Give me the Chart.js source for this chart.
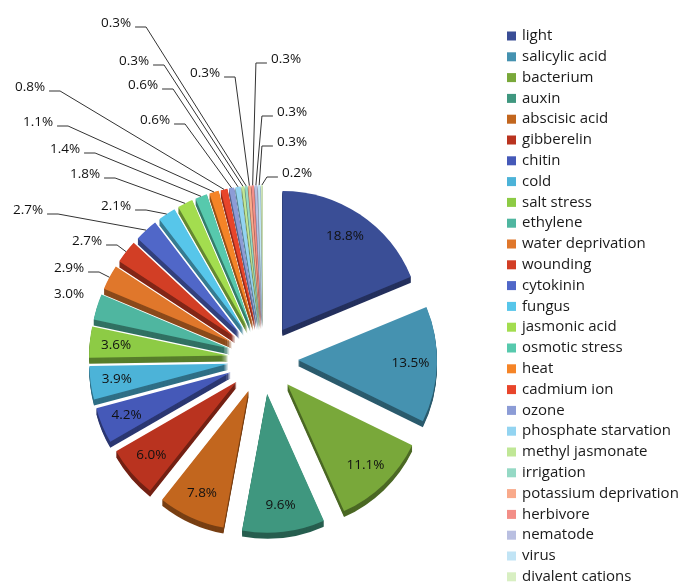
<!DOCTYPE html>
<html>
<head>
<meta charset="utf-8">
<script src="https://cdn.jsdelivr.net/npm/chart.js@4.4.1/dist/chart.umd.min.js"></script>
<style>
  html, body { margin: 0; padding: 0; background: #fff; }
  #wrap { width: 686px; height: 585px; }
</style>
</head>
<body>
<div id="wrap"><canvas id="pie" width="686" height="585"></canvas></div>
<script>
const categories = ['light', 'salicylic acid', 'bacterium', 'auxin', 'abscisic acid', 'gibberelin', 'chitin', 'cold',
  'salt stress', 'ethylene', 'water deprivation', 'wounding', 'cytokinin', 'fungus', 'jasmonic acid', 'osmotic stress',
  'heat', 'cadmium ion', 'ozone', 'phosphate starvation', 'methyl jasmonate', 'irrigation', 'potassium deprivation',
  'herbivore', 'nematode', 'virus', 'divalent cations'];
const shares = [18.8, 13.5, 11.1, 9.6, 7.8, 6.0, 4.2, 3.9, 3.6, 3.0, 2.9, 2.7, 2.7, 2.1, 1.8, 1.4, 1.1, 0.8, 0.6, 0.6,
  0.3, 0.3, 0.3, 0.3, 0.3, 0.3, 0.2];
const sliceColors = ['#3a4e96', '#4592b0', '#79a83a', '#3f977f', '#c2661e', '#b9331f', '#4559b8', '#4cb3d8',
  '#8dcb45', '#4fb6a0', '#e0772b', '#d23e25', '#5067c8', '#57c6ea', '#a3dd4f', '#57c9ad', '#f58427', '#e8452b',
  '#8c9cd6', '#93d4f1', '#c0e796', '#95d9c5', '#f9aa8b', '#f38e87', '#b9bfe1', '#c1e4f5', '#d8efc2'];

// callout positions for the small slices, px from the pie centre (slices 9..26)
const calloutOffsets = [[-194, -65], [-194, -91], [-176, -118], [-235, -149], [-147, -153], [-178, -185],
  [-198, -210], [-225, -237], [-233, -272], [-108, -239], [-120, -274], [-129, -298], [-147, -336],
  [-58, -286], [23, -300], [29, -247], [29, -217], [34, -186]];
const INSIDE_COUNT = 9;
const EXPLODE = 35, DEPTH = 6, RADIUS = 139;
const FONT = '"Open Sans", "DejaVu Sans", sans-serif';

function shade(hex, f) {
  const n = parseInt(hex.slice(1), 16);
  const r = Math.round(((n >> 16) & 255) * f), g = Math.round(((n >> 8) & 255) * f), b = Math.round((n & 255) * f);
  return `rgb(${r},${g},${b})`;
}

function midShift(a) {
  const m = (a.startAngle + a.endAngle) / 2;
  return [Math.cos(m) * EXPLODE, Math.sin(m) * EXPLODE];
}

// exploded pie with a thin 3D rim underneath each slice
const explodedPie = {
  id: 'explodedPie',
  beforeDatasetDraw(chart, args) {
    const ctx = chart.ctx;
    const arcs = args.meta.data;
    ctx.save();
    arcs.forEach((a, i) => {
      const [dx, dy] = midShift(a);
      ctx.fillStyle = shade(sliceColors[i], 0.62);
      for (let k = DEPTH; k > 0; k--) {
        ctx.beginPath();
        ctx.moveTo(a.x + dx, a.y + dy + k);
        ctx.arc(a.x + dx, a.y + dy + k, a.outerRadius, a.startAngle, a.endAngle);
        ctx.closePath();
        ctx.fill();
      }
    });
    arcs.forEach(a => {
      const [dx, dy] = midShift(a);
      ctx.save();
      ctx.translate(dx, dy);
      a.draw(ctx);
      ctx.restore();
    });
    ctx.restore();
    return false;
  }
};

const pctLabels = {
  id: 'pctLabels',
  afterDatasetsDraw(chart) {
    const ctx = chart.ctx;
    const arcs = chart.getDatasetMeta(0).data;
    ctx.save();
    ctx.font = `13.5px ${FONT}`;
    ctx.fillStyle = '#111';
    ctx.textBaseline = 'middle';
    arcs.forEach((a, i) => {
      const txt = shares[i].toFixed(1) + '%';
      const m = (a.startAngle + a.endAngle) / 2;
      if (i < INSIDE_COUNT) {
        const rr = EXPLODE + a.outerRadius * 0.81;
        ctx.textAlign = 'center';
        ctx.fillText(txt, a.x + Math.cos(m) * rr, a.y + Math.sin(m) * rr);
        return;
      }
      const [ox, oy] = calloutOffsets[i - INSIDE_COUNT];
      const lx = a.x + ox, ly = a.y + oy;
      const w = ctx.measureText(txt).width;
      ctx.textAlign = 'center';
      ctx.fillText(txt, lx, ly);
      const rp = EXPLODE + a.outerRadius;
      const px = a.x + Math.cos(m) * rp, py = a.y + Math.sin(m) * rp;
      const dir = px > lx ? 1 : -1;
      const sx = lx + dir * (w / 2 + 4), sy = ly + 4;
      if (Math.hypot(px - sx, py - sy) < 14) return;
      const ex = sx + dir * 11;
      ctx.strokeStyle = '#333';
      ctx.lineWidth = 1;
      ctx.beginPath();
      ctx.moveTo(sx, sy);
      ctx.lineTo(ex, sy);
      ctx.lineTo(px, py);
      ctx.stroke();
    });
    ctx.restore();
  }
};

const sideLegend = {
  id: 'sideLegend',
  afterDraw(chart) {
    const ctx = chart.ctx;
    ctx.save();
    ctx.font = `15px ${FONT}`;
    ctx.textBaseline = 'middle';
    ctx.textAlign = 'left';
    chart.data.labels.forEach((lab, i) => {
      const y = 36 + i * 20.8;
      ctx.fillStyle = sliceColors[i];
      ctx.fillRect(507, y - 4.5, 9, 9);
      ctx.fillStyle = '#1a1a1a';
      ctx.fillText(lab, 522, y);
    });
    ctx.restore();
  }
};

new Chart(document.getElementById('pie'), {
  type: 'pie',
  data: {
    labels: categories,
    datasets: [{ data: shares, backgroundColor: sliceColors, borderWidth: 0, offset: 0 }]
  },
  options: {
    responsive: false,
    animation: false,
    events: [],
    radius: RADIUS,
    layout: { padding: { left: 0, right: 160, top: 133, bottom: 0 } },
    plugins: { legend: { display: false }, tooltip: { enabled: false } }
  },
  plugins: [explodedPie, pctLabels, sideLegend]
});
</script>
</body>
</html>
